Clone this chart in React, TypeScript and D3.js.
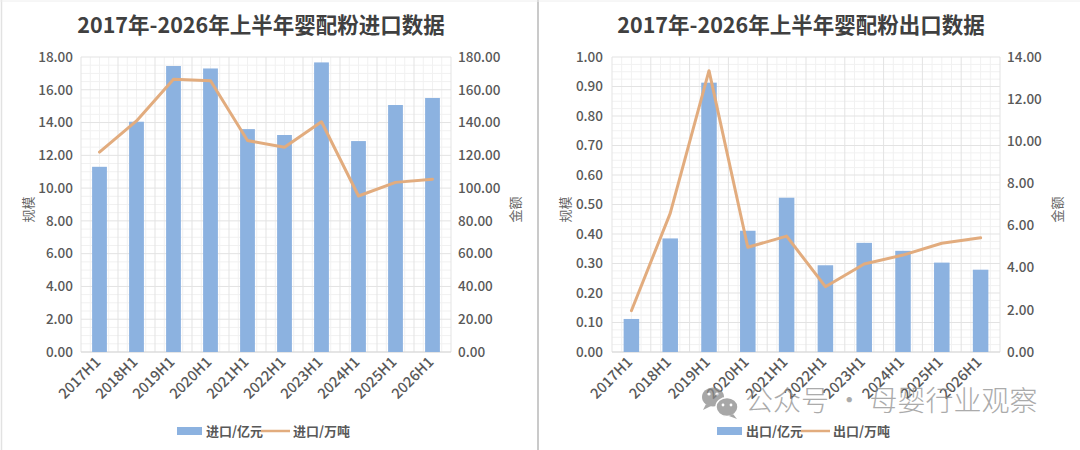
import React from 'react';
import * as d3 from 'd3';

const categories = ['2017H1', '2018H1', '2019H1', '2020H1', '2021H1', '2022H1', '2023H1', '2024H1', '2025H1', '2026H1'];

const importValue = [11.3, 14.05, 17.45, 17.3, 13.6, 13.24, 17.67, 12.87, 15.07, 15.5];
const importVolume = [122, 141, 166.4, 165.5, 129, 124.9, 140.5, 95.2, 103.5, 105.4];
const exportValue = [0.112, 0.385, 0.913, 0.411, 0.523, 0.294, 0.37, 0.343, 0.303, 0.279];
const exportVolume = [1.96, 6.58, 13.35, 4.97, 5.5, 3.1, 4.18, 4.6, 5.16, 5.42];

const importLeftTicks = [0, 2, 4, 6, 8, 10, 12, 14, 16, 18];
const importRightTicks = [0, 20, 40, 60, 80, 100, 120, 140, 160, 180];
const exportLeftTicks = [0, 0.1, 0.2, 0.3, 0.4, 0.5, 0.6, 0.7, 0.8, 0.9, 1.0];
const exportRightTicks = [0, 2, 4, 6, 8, 10, 12, 14];

const titles = ['2017年-2026年上半年婴配粉进口数据', '2017年-2026年上半年婴配粉出口数据'];
const importLegend = ['进口/亿元', '进口/万吨'];
const exportLegend = ['出口/亿元', '出口/万吨'];
const leftAxisTitle = '规模';
const rightAxisTitle = '金额';
const watermark = '公众号 · 母婴行业观察';

const BAR = '#8CB2E0';
const LINE = '#E2AC7E';
const TICK = '#595959';
const FONT = '"Noto Sans CJK SC", "Noto Sans", sans-serif';

type PanelProps = {
  x0: number; x1: number; top: number; bottom: number;
  title: string; titleX: number;
  bars: number[]; line: number[];
  leftTicks: number[]; rightTicks: number[];
  leftLabelX: number; rightLabelX: number;
  leftTitleX: number; rightTitleX: number;
  legend: string[]; legendX: number;
};

function Panel(p: PanelProps) {
  const x = d3.scaleBand<string>().domain(categories).range([p.x0, p.x1]).paddingInner(0.6).paddingOuter(0.3);
  const band = d3.scaleBand<string>().domain(categories).range([p.x0, p.x1]);
  const yL = d3.scaleLinear().domain([p.leftTicks[0], p.leftTicks[p.leftTicks.length - 1]]).range([p.bottom, p.top]);
  const yR = d3.scaleLinear().domain([p.rightTicks[0], p.rightTicks[p.rightTicks.length - 1]]).range([p.bottom, p.top]);
  const lineGen = d3.line<number>()
    .x((_, i) => (band(categories[i]) as number) + band.bandwidth() / 2)
    .y((d) => yR(d));

  const step = (p.bottom - p.top) / (p.leftTicks.length - 1);
  const minorH: number[] = [];
  for (let i = 0; i < p.leftTicks.length - 1; i++) {
    for (let k = 1; k < 4; k++) minorH.push(p.bottom - i * step - (k * step) / 4);
  }
  const minorV: number[] = [];
  categories.forEach((c) => {
    const bx = band(c) as number;
    const bw = band.bandwidth();
    [0.25, 0.5, 0.75].forEach((f) => minorV.push(bx + bw * f));
  });

  const fmt = d3.format('.2f');
  const legendY = 431;
  const midY = (p.top + p.bottom) / 2 + 5;

  return (
    <g>
      <text x={p.titleX} y={33} textAnchor="middle" fontFamily={FONT} fontSize={21.5} fontWeight={700} fill="#404040">{p.title}</text>
      {minorH.map((y, i) => (
        <line key={'mh' + i} x1={p.x0} x2={p.x1} y1={y} y2={y} stroke="#f1f1f1" strokeWidth={1} />
      ))}
      {minorV.map((xv, i) => (
        <line key={'mv' + i} x1={xv} x2={xv} y1={p.top} y2={p.bottom} stroke="#f1f1f1" strokeWidth={1} />
      ))}
      {categories.map((c, i) => (
        <line key={'v' + i} x1={band(c) as number} x2={band(c) as number} y1={p.top} y2={p.bottom} stroke="#e3e3e3" strokeWidth={1} />
      ))}
      <line x1={p.x1} x2={p.x1} y1={p.top} y2={p.bottom} stroke="#e3e3e3" strokeWidth={1} />
      {p.leftTicks.map((t, i) => (
        <line key={'h' + i} x1={p.x0} x2={p.x1} y1={yL(t)} y2={yL(t)} stroke="#e3e3e3" strokeWidth={1} />
      ))}
      <line x1={p.x0} x2={p.x1} y1={p.bottom} y2={p.bottom} stroke="#d9d9d9" strokeWidth={1} />
      {p.bars.map((v, i) => (
        <rect key={'b' + i} x={x(categories[i]) as number} width={x.bandwidth()} y={yL(v)} height={p.bottom - yL(v)} fill={BAR} />
      ))}
      <path d={lineGen(p.line) || ''} fill="none" stroke={LINE} strokeWidth={3} strokeLinejoin="round" strokeLinecap="round" />
      {p.leftTicks.map((t, i) => (
        <text key={'lt' + i} x={p.leftLabelX} y={yL(t)} dy="0.35em" textAnchor="end" fontFamily={FONT} fontSize={13.5} fontWeight={500} fill={TICK}>{fmt(t)}</text>
      ))}
      {p.rightTicks.map((t, i) => (
        <text key={'rt' + i} x={p.rightLabelX} y={yR(t)} dy="0.35em" textAnchor="start" fontFamily={FONT} fontSize={13.5} fontWeight={500} fill={TICK}>{fmt(t)}</text>
      ))}
      {categories.map((c, i) => {
        const cx = (band(c) as number) + band.bandwidth() / 2 + 2;
        const cy = 363;
        return (
          <text key={'xl' + i} x={cx} y={cy} textAnchor="end" transform={`rotate(-45 ${cx} ${cy})`} fontFamily={FONT} fontSize={14.5} fontWeight={500} fill={TICK}>{c}</text>
        );
      })}
      <text x={p.leftTitleX} y={midY} textAnchor="middle" transform={`rotate(-90 ${p.leftTitleX} ${midY})`} dy="0.35em" fontFamily={FONT} fontSize={13} fill="#666">{leftAxisTitle}</text>
      <text x={p.rightTitleX} y={midY} textAnchor="middle" transform={`rotate(-90 ${p.rightTitleX} ${midY})`} dy="0.35em" fontFamily={FONT} fontSize={13} fill="#666">{rightAxisTitle}</text>
      <rect x={p.legendX} y={legendY - 4} width={25} height={8} fill={BAR} />
      <text x={p.legendX + 29} y={legendY} dy="0.35em" fontFamily={FONT} fontSize={13} fontWeight={700} fill="#595959">{p.legend[0]}</text>
      <line x1={p.legendX + 84} x2={p.legendX + 113} y1={legendY} y2={legendY} stroke={LINE} strokeWidth={2.5} />
      <text x={p.legendX + 116} y={legendY} dy="0.35em" fontFamily={FONT} fontSize={13} fontWeight={700} fill="#595959">{p.legend[1]}</text>
    </g>
  );
}

export default function App() {
  return (
    <svg width={1080} height={450} style={{ position: 'absolute', left: 0, top: 0, background: '#fff' }}>
      <rect x={0} y={0} width={1080} height={450} fill="#fff" />
      <line x1={1.5} x2={1.5} y1={0} y2={450} stroke="#e2e2e2" strokeWidth={1.5} />
      <line x1={538} x2={538} y1={0} y2={450} stroke="#b8b8b8" strokeWidth={1.5} />
      <line x1={0} x2={1080} y1={1} y2={1} stroke="#eeeeee" strokeWidth={1} />
      <Panel
        x0={81} x1={451} top={57} bottom={352}
        title={titles[0]} titleX={261}
        bars={importValue} line={importVolume}
        leftTicks={importLeftTicks} rightTicks={importRightTicks}
        leftLabelX={73} rightLabelX={458}
        leftTitleX={28} rightTitleX={515}
        legend={importLegend} legendX={177}
      />
      <Panel
        x0={612} x1={1000} top={57} bottom={352}
        title={titles[1]} titleX={801}
        bars={exportValue} line={exportVolume}
        leftTicks={exportLeftTicks} rightTicks={exportRightTicks}
        leftLabelX={603} rightLabelX={1007}
        leftTitleX={565} rightTitleX={1057}
        legend={exportLegend} legendX={717}
      />
      <g opacity={0.75}>
        <ellipse cx={713} cy={397} rx={11} ry={9.5} fill="#8a8a8a" />
        <path d="M706,404 L703,410 L711,406 Z" fill="#8a8a8a" />
        <ellipse cx={727} cy={407} rx={11} ry={9.5} fill="#8a8a8a" stroke="#fff" strokeWidth={1.5} />
        <path d="M733,414 L737,419 L729,416 Z" fill="#8a8a8a" />
        <circle cx={709} cy={394} r={1.6} fill="#fff" />
        <circle cx={717} cy={394} r={1.6} fill="#fff" />
        <circle cx={723} cy={405} r={1.4} fill="#fff" />
        <circle cx={731} cy={405} r={1.4} fill="#fff" />
        <text x={745} y={411} fontFamily={FONT} fontSize={28} fontWeight={300} fill="#8f8f8f">{watermark}</text>
      </g>
    </svg>
  );
}
